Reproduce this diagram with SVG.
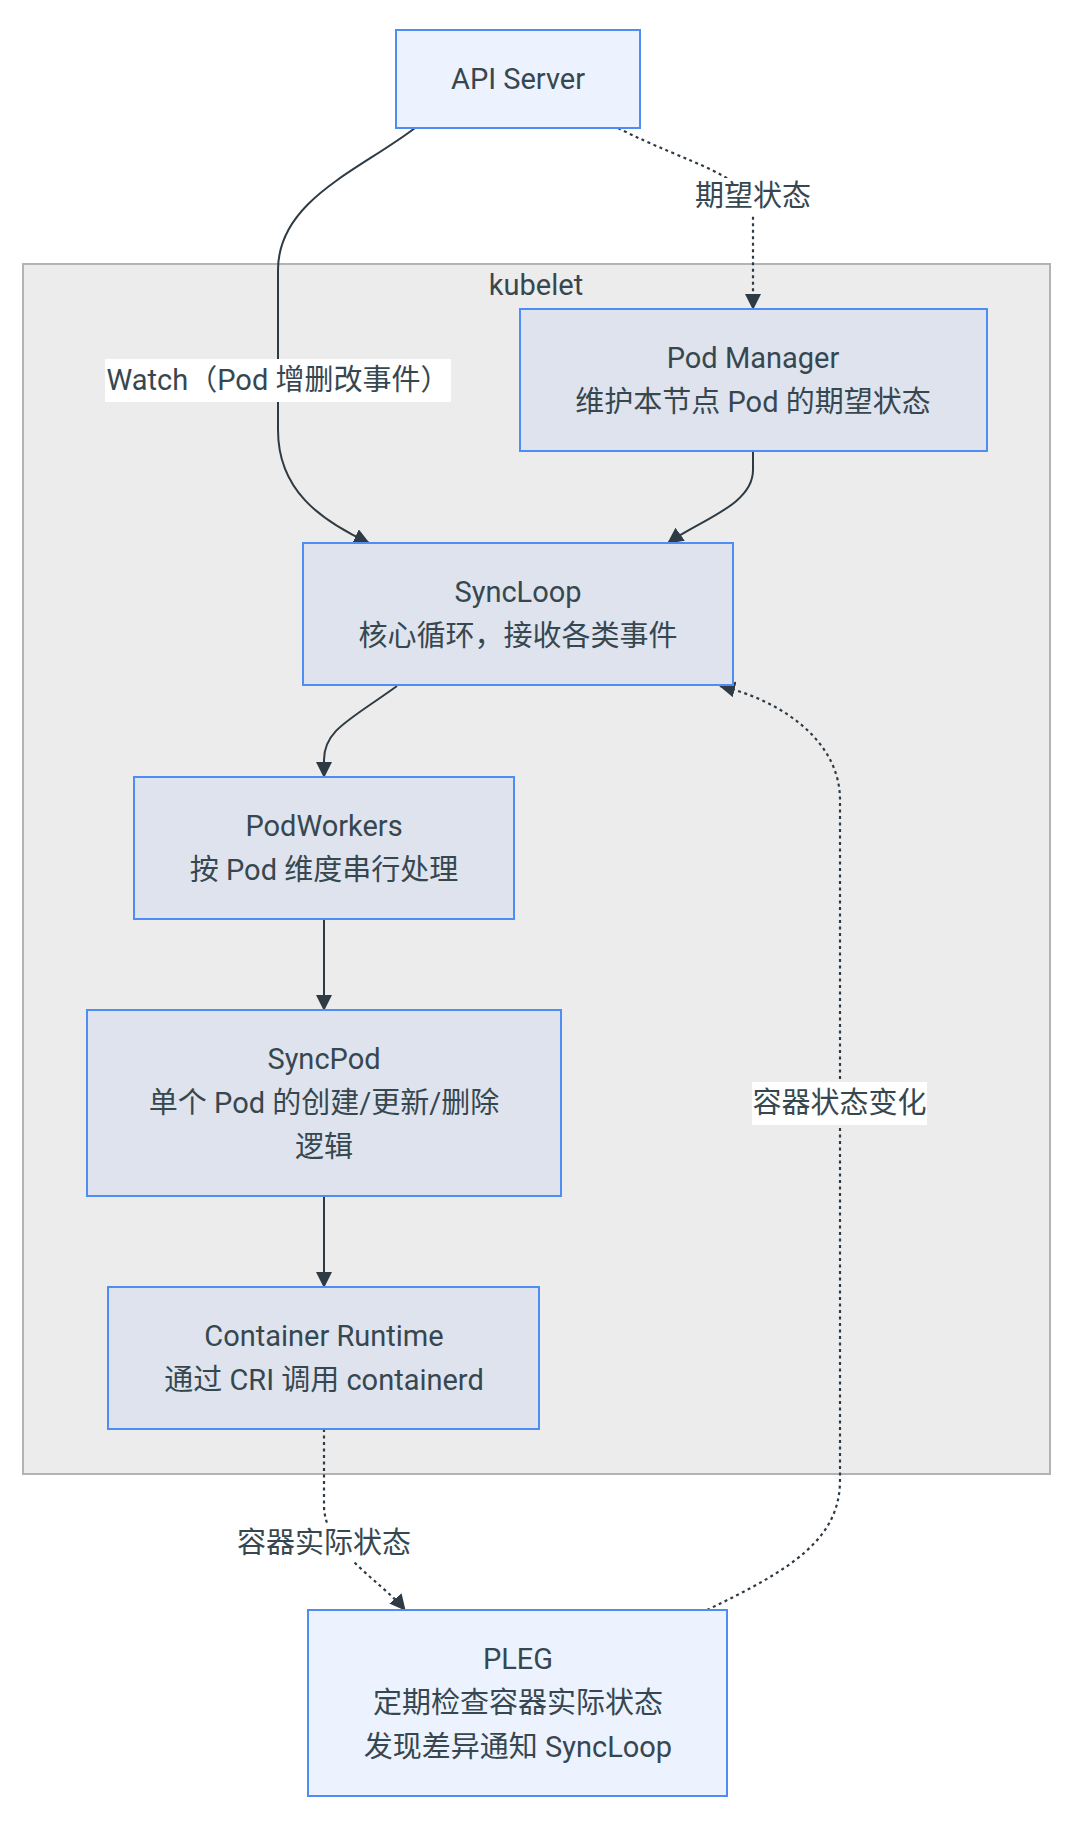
<svg xmlns="http://www.w3.org/2000/svg" width="1080" height="1823" viewBox="0 0 1080 1823">
<defs>
<style>
.bg{fill:#ffffff}
.cluster{fill:#ececec;stroke:#b3b3b3;stroke-width:2}
.outer{fill:#ecf2fe;stroke:#4d8df5;stroke-width:2}
.inner{fill:#dee3ee;stroke:#4d8df5;stroke-width:2}
text{font-family:Roboto,"Noto Sans CJK SC",sans-serif;font-size:29px;fill:#37474f;text-anchor:middle;dominant-baseline:central}
.edge{fill:none;stroke:#2f3b44;stroke-width:2}
.dash{stroke-dasharray:3 3.5;stroke-width:2.2}
.lbl{fill:#ffffff}
</style>
<marker id="arr" viewBox="0 0 16 16" refX="15" refY="8" markerWidth="16" markerHeight="16" markerUnits="userSpaceOnUse" orient="auto">
<path d="M0,0 L16,8 L0,16 Z" fill="#2f3b44"/>
</marker>
</defs>
<rect class="bg" x="0" y="0" width="1080" height="1823"/>
<g id="cluster-kubelet">
<rect class="cluster" x="23" y="264" width="1027" height="1210"/>
<text x="536" y="285">kubelet</text>
</g>
<g id="connectors">
<path class="edge" d="M415,128 C360,170 278,200 278,270 L278,430 C278,490 320,520 369,543" marker-end="url(#arr)"/>
<path class="edge dash" d="M618,128 C690,165 753,175 753,215 L753,309" marker-end="url(#arr)"/>
<path class="edge" d="M753,452 L753,470 C753,505 700,520 668,543" marker-end="url(#arr)"/>
<path class="edge" d="M397,686 C350,720 324,730 324,760 L324,777" marker-end="url(#arr)"/>
<path class="edge" d="M324,919 L324,1010" marker-end="url(#arr)"/>
<path class="edge" d="M324,1196 L324,1287" marker-end="url(#arr)"/>
<path class="edge dash" d="M324,1429 L324,1505 C324,1550 380,1580 405,1610" marker-end="url(#arr)"/>
<path class="edge dash" d="M707,1610 C790,1570 840,1540 840,1480 L840,800 C840,740 780,700 720,686" marker-end="url(#arr)"/>
<rect class="lbl" x="105" y="359" width="346" height="43"/>
<text x="278" y="380">Watch（Pod 增删改事件）</text>
<rect class="lbl" x="694" y="178" width="118" height="38"/>
<text x="753" y="196">期望状态</text>
<rect class="lbl" x="752" y="1082" width="175" height="43"/>
<text x="839.5" y="1103">容器状态变化</text>
<rect class="lbl" x="236" y="1524" width="176" height="38"/>
<text x="324" y="1543">容器实际状态</text>
</g>
<g id="node-apiserver">
<rect class="outer" x="396" y="30" width="244" height="98"/>
<text x="518" y="79">API Server</text>
</g>
<g id="node-podmanager">
<rect class="inner" x="520" y="309" width="467" height="142"/>
<text x="753" y="358">Pod Manager</text>
<text x="753" y="402">维护本节点 Pod 的期望状态</text>
</g>
<g id="node-syncloop">
<rect class="inner" x="303" y="543" width="430" height="142"/>
<text x="518" y="592">SyncLoop</text>
<text x="518" y="636">核心循环，接收各类事件</text>
</g>
<g id="node-podworkers">
<rect class="inner" x="134" y="777" width="380" height="142"/>
<text x="324" y="826">PodWorkers</text>
<text x="324" y="870">按 Pod 维度串行处理</text>
</g>
<g id="node-syncpod">
<rect class="inner" x="87" y="1010" width="474" height="186"/>
<text x="324" y="1059">SyncPod</text>
<text x="324" y="1103">单个 Pod 的创建/更新/删除</text>
<text x="324" y="1147">逻辑</text>
</g>
<g id="node-runtime">
<rect class="inner" x="108" y="1287" width="431" height="142"/>
<text x="324" y="1336">Container Runtime</text>
<text x="324" y="1380">通过 CRI 调用 containerd</text>
</g>
<g id="node-pleg">
<rect class="outer" x="308" y="1610" width="419" height="186"/>
<text x="518" y="1659">PLEG</text>
<text x="518" y="1703">定期检查容器实际状态</text>
<text x="518" y="1747">发现差异通知 SyncLoop</text>
</g>
</svg>
